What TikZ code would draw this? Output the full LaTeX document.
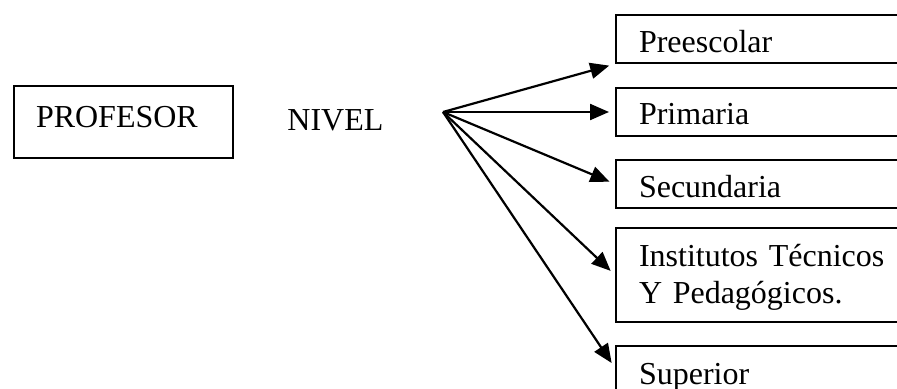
\documentclass[tikz,border=0pt]{standalone}
\usepackage{fontspec}
\setmainfont{Liberation Serif}
\usetikzlibrary{arrows.meta, positioning}

\begin{document}
\begin{tikzpicture}[
    x=0.5pt, y=-0.5pt,
    font=\fontsize{16}{18.5}\selectfont,
    levelbox/.style={draw, line width=1pt, anchor=north west, inner xsep=11.5pt, inner ysep=0pt,
                     text width=140pt, align=left, text height=19pt, text depth=5pt},
    arrowstyle/.style={-{Triangle[length=9.5pt, width=8pt]}, line width=1.1pt, shorten >=3pt},
]
    \useasboundingbox (0,0) rectangle (897,389);
    \clip (0,0) rectangle (897,389);

    % Left side
    \node[draw, line width=1pt, anchor=north west, inner xsep=11pt, inner ysep=0pt,
          text width=87.5pt, align=left, text height=21pt, text depth=15pt] (prof) at (13,85) {PROFESOR};
    \node[anchor=base west, inner sep=0pt] (nivel) at (287,131) {NIVEL};
    \coordinate (src) at (443,112);

    % Levels (boxes run past the right edge)
    \node[levelbox] (pre) at (615,14) {Preescolar};
    \node[levelbox, text height=18.5pt, text depth=5.5pt] (pri) at (615,87) {Primaria};
    \node[levelbox] (sec) at (615,159) {Secundaria};
    \node[levelbox, text depth=28pt] (inst) at (615,227) {Institutos Técnicos\\Y Pedagógicos.};
    \node[levelbox, text depth=12pt] (sup) at (615,345) {Superior};

    % Arrows from NIVEL fan point
    \draw[arrowstyle] (src) -- (pre.south west);
    \draw[arrowstyle] (src) -- (pri.west);
    \draw[arrowstyle] (src) -- (sec.west);
    \draw[arrowstyle] (src) -- (inst.west);
    \draw[arrowstyle] (src) -- ([yshift=-11.5pt]sup.north west);

\end{tikzpicture}
\end{document}
